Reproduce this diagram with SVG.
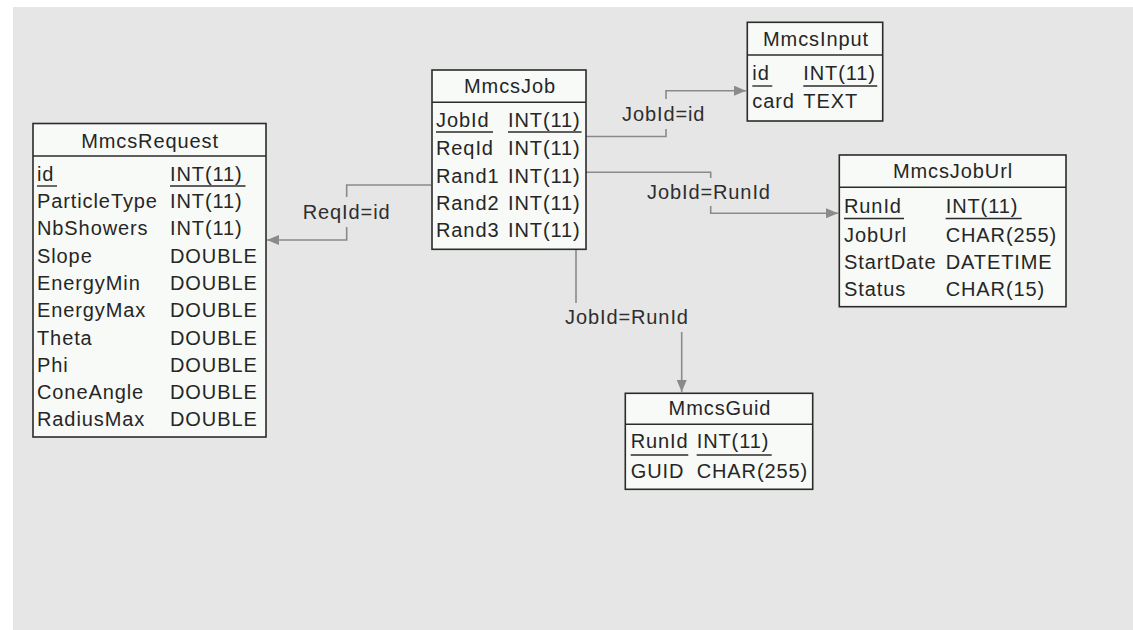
<svg xmlns="http://www.w3.org/2000/svg" width="1133" height="630" viewBox="0 0 1133 630">
  <style>
    text { font-family: "Liberation Sans", Arial, sans-serif; font-size: 20px; letter-spacing: 0.9px; fill: #262626; }
    .title { text-anchor: middle; }
    .box { fill: #f7faf7; stroke: #2b2b2b; stroke-width: 1.6; }
    .sep { stroke: #2b2b2b; stroke-width: 1.6; }
    .ul { stroke: #2b2b2b; stroke-width: 1.4; }
    .conn { fill: none; stroke: #8a8a8a; stroke-width: 1.6; }
    .lbl { fill: #2e2e2e; }
  </style>
  <defs>
    <marker id="arrow" markerUnits="userSpaceOnUse" markerWidth="13" markerHeight="11" refX="12" refY="5" orient="auto">
      <path d="M0,0 L12,5 L0,10 z" fill="#8a8a8a"/>
    </marker>
  </defs>

  <rect x="13" y="7" width="1120" height="623" fill="#e6e6e6"/>

  <!-- relations -->
  <g id="connectors">
    <path class="conn" d="M431,185 H346.7 V197"/>
    <path class="conn" d="M346.7,227 V240 H267" marker-end="url(#arrow)"/>
    <text class="lbl" x="302.7" y="218.5">ReqId=id</text>

    <path class="conn" d="M586,136.5 H666 V129"/>
    <path class="conn" d="M666,99 V90.7 H746" marker-end="url(#arrow)"/>
    <text class="lbl" x="622" y="121">JobId=id</text>

    <path class="conn" d="M586,172.3 H710.7 V178"/>
    <path class="conn" d="M710.7,206 V213.3 H838" marker-end="url(#arrow)"/>
    <text class="lbl" x="647" y="198.5">JobId=RunId</text>

    <path class="conn" d="M576,249 V303"/>
    <path class="conn" d="M681.7,332 V392" marker-end="url(#arrow)"/>
    <text class="lbl" x="565" y="323.5">JobId=RunId</text>
  </g>

  <!-- MmcsRequest -->
  <g id="MmcsRequest">
    <rect class="box" x="33" y="123.5" width="233" height="313.5"/>
    <line class="sep" x1="33" y1="156" x2="266" y2="156"/>
    <text class="title" x="150" y="147.5">MmcsRequest</text>
    <text x="37" y="180.5">id</text><text x="170" y="180.5">INT(11)</text>
    <line class="ul" x1="37" y1="186" x2="57" y2="186"/><line class="ul" x1="170" y1="186" x2="245.5" y2="186"/>
    <text x="37" y="208">ParticleType</text><text x="170" y="208">INT(11)</text>
    <text x="37" y="235.3">NbShowers</text><text x="170" y="235.3">INT(11)</text>
    <text x="37" y="262.6">Slope</text><text x="170" y="262.6">DOUBLE</text>
    <text x="37" y="289.9">EnergyMin</text><text x="170" y="289.9">DOUBLE</text>
    <text x="37" y="317.2">EnergyMax</text><text x="170" y="317.2">DOUBLE</text>
    <text x="37" y="344.5">Theta</text><text x="170" y="344.5">DOUBLE</text>
    <text x="37" y="371.8">Phi</text><text x="170" y="371.8">DOUBLE</text>
    <text x="37" y="399.1">ConeAngle</text><text x="170" y="399.1">DOUBLE</text>
    <text x="37" y="426.4">RadiusMax</text><text x="170" y="426.4">DOUBLE</text>
  </g>

  <!-- MmcsJob -->
  <g id="MmcsJob">
    <rect class="box" x="432" y="70" width="154" height="179.3"/>
    <line class="sep" x1="432" y1="102.3" x2="586" y2="102.3"/>
    <text class="title" x="510" y="93">MmcsJob</text>
    <text x="436" y="127">JobId</text><text x="508" y="127">INT(11)</text>
    <line class="ul" x1="436" y1="132" x2="493" y2="132"/><line class="ul" x1="508" y1="132" x2="581.5" y2="132"/>
    <text x="436" y="155">ReqId</text><text x="508" y="155">INT(11)</text>
    <text x="436" y="182.5">Rand1</text><text x="508" y="182.5">INT(11)</text>
    <text x="436" y="210">Rand2</text><text x="508" y="210">INT(11)</text>
    <text x="436" y="237.3">Rand3</text><text x="508" y="237.3">INT(11)</text>
  </g>

  <!-- MmcsInput -->
  <g id="MmcsInput">
    <rect class="box" x="747.3" y="22.3" width="135.4" height="98.7"/>
    <line class="sep" x1="747.3" y1="55" x2="882.7" y2="55"/>
    <text class="title" x="816" y="45.7">MmcsInput</text>
    <text x="752.3" y="80">id</text><text x="803.3" y="80">INT(11)</text>
    <line class="ul" x1="752.3" y1="86" x2="772.3" y2="86"/><line class="ul" x1="803.3" y1="86" x2="877.3" y2="86"/>
    <text x="752.3" y="107.7">card</text><text x="803.3" y="107.7">TEXT</text>
  </g>

  <!-- MmcsJobUrl -->
  <g id="MmcsJobUrl">
    <rect class="box" x="839.3" y="155" width="226.7" height="151.7"/>
    <line class="sep" x1="839.3" y1="187.3" x2="1066" y2="187.3"/>
    <text class="title" x="953" y="178.3">MmcsJobUrl</text>
    <text x="844" y="213.3">RunId</text><text x="945.7" y="213.3">INT(11)</text>
    <line class="ul" x1="844" y1="218.5" x2="904" y2="218.5"/><line class="ul" x1="945.7" y1="218.5" x2="1021.7" y2="218.5"/>
    <text x="844" y="241.7">JobUrl</text><text x="945.7" y="241.7">CHAR(255)</text>
    <text x="844" y="268.5">StartDate</text><text x="945.7" y="268.5">DATETIME</text>
    <text x="844" y="295.7">Status</text><text x="945.7" y="295.7">CHAR(15)</text>
  </g>

  <!-- MmcsGuid -->
  <g id="MmcsGuid">
    <rect class="box" x="625.3" y="393.3" width="187.4" height="96"/>
    <line class="sep" x1="625.3" y1="424.3" x2="812.7" y2="424.3"/>
    <text class="title" x="720" y="415">MmcsGuid</text>
    <text x="630.7" y="448.3">RunId</text><text x="696.7" y="448.3">INT(11)</text>
    <line class="ul" x1="630.7" y1="455" x2="688.3" y2="455"/><line class="ul" x1="696.7" y1="455" x2="771.7" y2="455"/>
    <text x="630.7" y="478.3">GUID</text><text x="696.7" y="478.3">CHAR(255)</text>
  </g>
</svg>
